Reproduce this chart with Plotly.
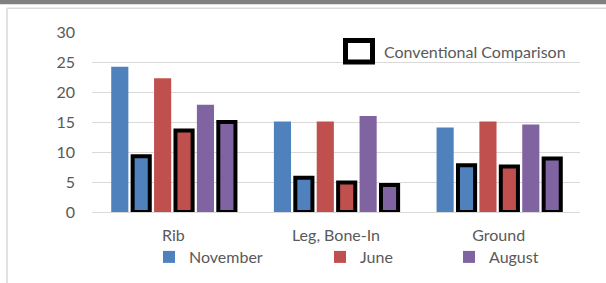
import plotly.graph_objects as go

categories = ["Rib", "Leg, Bone-In", "Ground"]
november = [24.2, 15.1, 14.1]
november_conv = [9.3, 5.7, 7.8]
june = [22.3, 15.1, 15.1]
june_conv = [13.6, 4.9, 7.6]
august = [17.9, 16.0, 14.6]
august_conv = [15.0, 4.5, 8.9]
y_ticks = [0, 5, 10, 15, 20, 25, 30]

BLUE = "#4F81BD"
RED = "#C0504D"
PURPLE = "#8064A2"
TXT = "#595959"
FONT = "Lato"
FS = 16

fig = go.Figure()

def plain(name, vals, color, legend):
    fig.add_trace(go.Bar(x=categories, y=vals, name=name, marker=dict(color=color, line=dict(width=0)),
                         legend=legend, showlegend=True))

def conv(name, vals, color):
    fig.add_trace(go.Bar(x=categories, y=vals, name=name, marker=dict(color=color, line=dict(color="black", width=4)),
                         showlegend=False, cliponaxis=False))

plain("November", november, BLUE, "legend")
conv("November (conventional)", november_conv, BLUE)
plain("June", june, RED, "legend2")
conv("June (conventional)", june_conv, RED)
plain("August", august, PURPLE, "legend3")
conv("August (conventional)", august_conv, PURPLE)

# legend entry for conventional comparison (key box drawn as a shape below)
fig.add_trace(go.Scatter(x=[None], y=[None], mode="markers", name="Conventional Comparison",
                         marker=dict(symbol="square", size=1, color="rgba(0,0,0,0)", line=dict(width=0)),
                         legend="legend4", showlegend=True))

# plot area geometry
FW, FH = 606, 283
L, R, T, B = 92, 26, 32, 71
W = FW - L - R
H = FH - T - B
def px(x): return (x - L) / W
def py(y): return (FH - B - y) / H
def cx(x): return x / FW
def cy(y): return 1 - y / FH

legend_font = dict(family=FONT, size=FS, color=TXT)
common = dict(orientation="h", bgcolor="rgba(0,0,0,0)", font=legend_font, yanchor="middle",
              xanchor="left", itemclick=False, xref="container", yref="container")

fig.update_layout(
    width=FW, height=FH,
    margin=dict(l=L, r=R, t=T, b=B, autoexpand=False),
    paper_bgcolor="white", plot_bgcolor="white",
    barmode="group", bargap=0.21, bargroupgap=0.2,
    font=dict(family=FONT, size=FS, color=TXT),
    xaxis=dict(showgrid=False, showline=False, zeroline=False, ticks="", ticklabelstandoff=12,
               tickfont=dict(family=FONT, size=FS, color=TXT)),
    yaxis=dict(range=[0, 30.01], tickvals=y_ticks, showgrid=True, gridcolor="#D9D9D9", gridwidth=1,
               zeroline=True, zerolinecolor="#D9D9D9", zerolinewidth=1, showline=False, ticks="",
               ticklabelstandoff=16, tickfont=dict(family=FONT, size=FS, color=TXT)),
    legend=dict(x=cx(149), y=cy(257), **common),
    legend2=dict(x=cx(320), y=cy(257), **common),
    legend3=dict(x=cx(449), y=cy(257), **common),
    legend4=dict(x=cx(344), y=cy(52), itemwidth=30, **common),
    shapes=[
        dict(type="rect", xref="paper", yref="paper", x0=px(0), x1=px(FW), y0=py(4.3), y1=py(0),
             fillcolor="#808080", line=dict(width=0), layer="above"),
        dict(type="rect", xref="paper", yref="paper", x0=px(596), x1=px(FW), y0=py(FH), y1=py(11),
             fillcolor="white", line=dict(width=0), layer="above"),
        dict(type="line", xref="paper", yref="paper", x0=px(7), x1=px(FW), y0=py(8.3), y1=py(8.3),
             line=dict(color="#D9D9D9", width=1.5)),
        dict(type="line", xref="paper", yref="paper", x0=px(7), x1=px(7), y0=py(8.3), y1=py(FH),
             line=dict(color="#D9D9D9", width=1.5)),
        dict(type="rect", xref="paper", yref="paper", x0=px(345.5), x1=px(372.5), y0=py(62), y1=py(40.5),
             fillcolor="white", line=dict(color="black", width=5), layer="above"),
    ],
)

fig.write_html("out.html", config={"displayModeBar": False},
               post_script="document.body.style.margin='0';document.body.style.overflow='hidden';"
                           "document.documentElement.style.overflow='hidden';")
